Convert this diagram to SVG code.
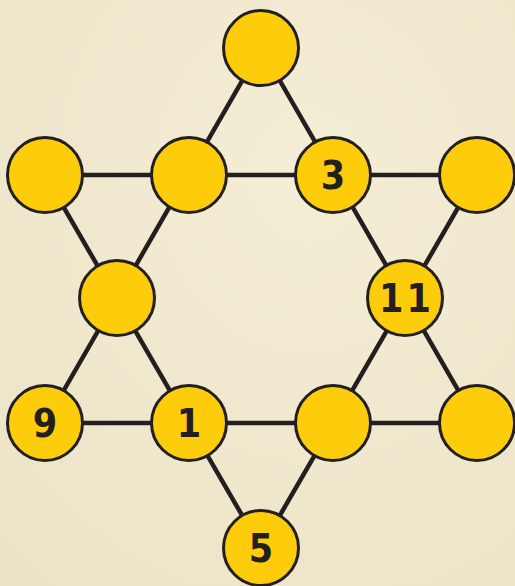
<svg xmlns="http://www.w3.org/2000/svg" width="515" height="586" viewBox="0 0 515 586">
<style>
.n{fill:#fdcd0b;stroke:#231f20;stroke-width:3}
.t{font-family:"Liberation Sans Narrow","DejaVu Sans Condensed","Liberation Sans",sans-serif;font-weight:bold;font-size:39px;fill:#231f20;text-anchor:middle}
.e{stroke:#231f20;stroke-width:4.5;fill:none}
</style>
<defs>
<radialGradient id="bg" cx="0.6" cy="0.3" r="0.9">
<stop offset="0" stop-color="#f4eed6"/>
<stop offset="1" stop-color="#ece3c6"/>
</radialGradient>
</defs>
<rect width="515" height="586" fill="url(#bg)"/>
<g id="connectors">
<polygon class="e" points="261,48 45,423 477,423"/>
<polygon class="e" points="45,175 477,175 261,548"/>
</g>
<g id="n1"><circle class="n" cx="261" cy="48" r="37.5"/></g>
<g id="n2"><circle class="n" cx="45" cy="175" r="37.5"/></g>
<g id="n3"><circle class="n" cx="189" cy="175" r="37.5"/></g>
<g id="n4"><circle class="n" cx="333" cy="175" r="37.5"/><text class="t" x="333" y="189">3</text></g>
<g id="n5"><circle class="n" cx="477" cy="175" r="37.5"/></g>
<g id="n6"><circle class="n" cx="117" cy="298" r="37.5"/></g>
<g id="n7"><circle class="n" cx="405" cy="298" r="37.5"/><text class="t" x="406.5" y="312" letter-spacing="3">11</text></g>
<g id="n8"><circle class="n" cx="45" cy="423" r="37.5"/><text class="t" x="45" y="437">9</text></g>
<g id="n9"><circle class="n" cx="189" cy="423" r="37.5"/><text class="t" x="189" y="437">1</text></g>
<g id="n10"><circle class="n" cx="333" cy="423" r="37.5"/></g>
<g id="n11"><circle class="n" cx="477" cy="423" r="37.5"/></g>
<g id="n12"><circle class="n" cx="261" cy="548" r="37.5"/><text class="t" x="261" y="562">5</text></g>
</svg>
